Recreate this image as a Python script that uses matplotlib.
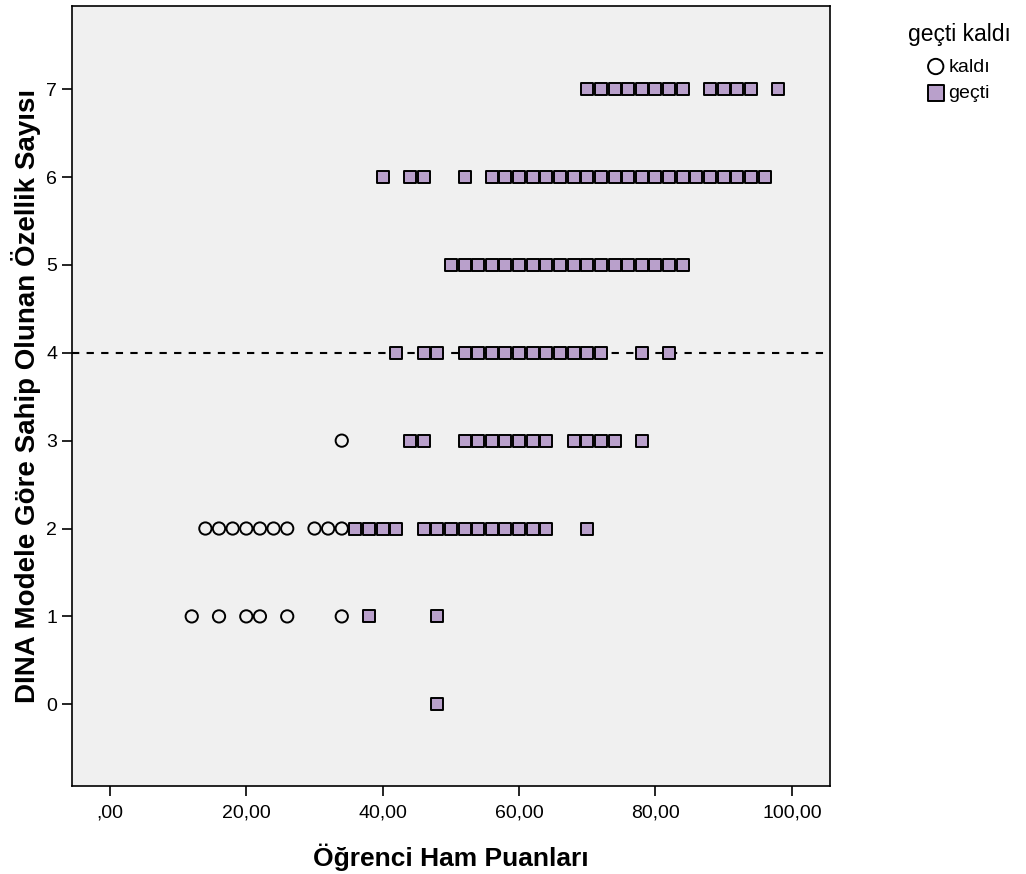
import matplotlib
matplotlib.use("Agg")
from matplotlib import pyplot as plt

# kaldı (failed) - circles
kaldi_x = [34,
           14, 16, 18, 20, 22, 24, 26, 30, 32, 34,
           12, 16, 20, 22, 26, 34]
kaldi_y = [3,
           2, 2, 2, 2, 2, 2, 2, 2, 2, 2,
           1, 1, 1, 1, 1, 1]

# geçti (passed) - squares, one list of scores per attribute count
gecti_7 = [70, 72, 74, 76, 78, 80, 82, 84, 88, 90, 92, 94, 98]
gecti_6 = [40, 44, 46, 52, 56, 58, 60, 62, 64, 66, 68, 70, 72, 74, 76, 78, 80,
           82, 84, 86, 88, 90, 92, 94, 96]
gecti_5 = [50, 52, 54, 56, 58, 60, 62, 64, 66, 68, 70, 72, 74, 76, 78, 80, 82, 84]
gecti_4 = [42, 46, 48, 52, 54, 56, 58, 60, 62, 64, 66, 68, 70, 72, 78, 82]
gecti_3 = [44, 46, 52, 54, 56, 58, 60, 62, 64, 68, 70, 72, 74, 78]
gecti_2 = [36, 38, 40, 42, 46, 48, 50, 52, 54, 56, 58, 60, 62, 64, 70]
gecti_1 = [38, 48]
gecti_0 = [48]

gecti_rows = {7: gecti_7, 6: gecti_6, 5: gecti_5, 4: gecti_4,
              3: gecti_3, 2: gecti_2, 1: gecti_1, 0: gecti_0}
gecti_x = []
gecti_y = []
for k in gecti_rows:
    gecti_x += gecti_rows[k]
    gecti_y += [k] * len(gecti_rows[k])

x_ticks = [0, 20, 40, 60, 80, 100]
x_ticklabels = [",00", "20,00", "40,00", "60,00", "80,00", "100,00"]
y_ticks = [0, 1, 2, 3, 4, 5, 6, 7]
cut_line = 4

plt.rcParams['font.family'] = ['Liberation Sans', 'DejaVu Sans']

fig = plt.figure(figsize=(10.26, 8.74), dpi=100)
ax = fig.add_axes([0.0699, 0.1007, 0.7391, 0.8928])
ax.set_facecolor("#f0f0f0")

ax.axhline(cut_line, color="black", linewidth=1.5, linestyle=(0, (3.5, 3.5)), zorder=1)

ax.scatter(kaldi_x, kaldi_y, marker="o", s=78, facecolors="none",
           edgecolors="black", linewidths=1.4, label="kaldı", zorder=3)
ax.scatter(gecti_x, gecti_y, marker="s", s=78, facecolors="#b9a0cb",
           edgecolors="black", linewidths=1.4, label="geçti", zorder=2)

ax.set_xlim(-5.6, 105.6)
ax.set_ylim(-0.93, 7.95)
ax.set_xticks(x_ticks)
ax.set_xticklabels(x_ticklabels)
ax.set_yticks(y_ticks)
ax.tick_params(axis="both", labelsize=14, length=7, width=1.2, color="black")
ax.tick_params(axis="x", pad=6)
for sp in ax.spines.values():
    sp.set_linewidth(1.2)

ax.set_xlabel("Öğrenci Ham Puanları", fontsize=19, fontweight="bold", labelpad=16)
ax.set_ylabel("DINA Modele Göre Sahip Olunan Özellik Sayısı", fontsize=20,
              fontweight="bold", labelpad=4)

# legend title drawn on its own, entries below it
fig.text(908 / 1026, 1 - 35 / 874, "geçti kaldı", fontsize=16.5, ha="left", va="center")
fig.legend(loc="upper left", bbox_to_anchor=(926 / 1026, 1 - 58 / 874), frameon=False,
           fontsize=14, handletextpad=0.15, labelspacing=0.45, handlelength=1.0,
           markerscale=1.25, borderaxespad=0, borderpad=0)

fig.savefig("out.png", dpi=100)
